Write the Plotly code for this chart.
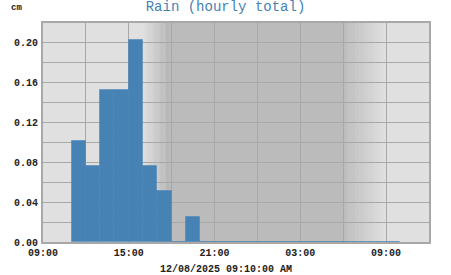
import plotly.graph_objects as go
from datetime import datetime, timedelta

# Data: hourly rain totals (cm), hour start times
hour_starts = [
    "2025-12-07 11:00", "2025-12-07 12:00", "2025-12-07 13:00",
    "2025-12-07 14:00", "2025-12-07 15:00", "2025-12-07 16:00", "2025-12-07 17:00",
    "2025-12-07 18:00", "2025-12-07 19:00", "2025-12-07 20:00", "2025-12-07 21:00",
    "2025-12-07 22:00", "2025-12-07 23:00", "2025-12-08 00:00", "2025-12-08 01:00",
    "2025-12-08 02:00", "2025-12-08 03:00", "2025-12-08 04:00", "2025-12-08 05:00",
    "2025-12-08 06:00", "2025-12-08 07:00", "2025-12-08 08:00", "2025-12-08 09:00",
]
rain_cm = [
    0.1016, 0.0762, 0.1524,
    0.1524, 0.2032, 0.0762, 0.0508,
    0.0, 0.0254, 0.0, 0.0,
    0.0, 0.0, 0.0, 0.0,
    0.0, 0.0, 0.0, 0.0,
    0.0, 0.0, 0.0, 0.0,
]
y_ticks = [0.00, 0.04, 0.08, 0.12, 0.16, 0.20]
y_tick_labels = ["0.00", "0.04", "0.08", "0.12", "0.16", "0.20"]
title_text = "Rain (hourly total)"
unit_text = "cm"
timestamp_text = "12/08/2025 09:10:00 AM"

x_start = "2025-12-07 09:00"
x_end = "2025-12-08 12:00"
dusk_start, dusk_end = "2025-12-07 16:00", "2025-12-07 18:00"
dawn_start, dawn_end = "2025-12-08 06:00", "2025-12-08 09:00"

LIGHT = (224, 224, 224)
DARK = (187, 187, 187)
DARKER = (176, 176, 176)

fig = go.Figure()
fig.add_trace(go.Bar(
    x=hour_starts, y=rain_cm, offset=0, width=3600000,
    marker=dict(color="#4682b4", line=dict(color="rgba(70,130,180,0.5)", width=1)),
    hoverinfo="skip",
))

def mix(a, b, t):
    return "rgb(%d,%d,%d)" % tuple(round(a[i] + (b[i] - a[i]) * t) for i in range(3))

def gradient(t0, t1, c0, c1, steps=24):
    d0 = datetime.fromisoformat(t0)
    d1 = datetime.fromisoformat(t1)
    span = (d1 - d0) / steps
    for i in range(steps):
        a = d0 + span * i
        b = d0 + span * (i + 1)
        fig.add_vrect(x0=a, x1=b + timedelta(seconds=30), fillcolor=mix(c0, c1, (i + 0.5) / steps),
                      line_width=0, layer="below", opacity=1)

gradient(dusk_start, dusk_end, LIGHT, DARKER)
fig.add_vrect(x0=dusk_end, x1=dawn_start, fillcolor=mix(DARK, DARK, 0), line_width=0, layer="below")
gradient(dawn_start, dawn_end, DARK, LIGHT)

font_mono = "Liberation Mono, Courier New, monospace"

fig.update_layout(
    width=451, height=275,
    margin=dict(l=43, r=22, t=23, b=33),
    paper_bgcolor="white",
    plot_bgcolor="rgb(224,224,224)",
    showlegend=False,
    bargap=0,
    font=dict(family=font_mono, size=10, color="#222"),
    title=dict(text=title_text, x=0.5, xanchor="center", y=0.995, yanchor="top",
               font=dict(family=font_mono, size=14, color="#4682b4")),
)
fig.update_xaxes(
    type="date", range=[x_start, x_end],
    tick0=x_start, dtick=6 * 3600000, tickformat="%H:%M",
    showgrid=True, gridcolor="#a8a8a8", gridwidth=1,
    minor=dict(dtick=3 * 3600000, showgrid=True, gridcolor="#a8a8a8", gridwidth=1),
    showline=True, linecolor="#a8a8a8", linewidth=2, mirror=True,
    ticks="", ticklen=0, ticklabelstandoff=0,
    tickfont=dict(family=font_mono, size=10, color="#222", weight="bold"),
    zeroline=False,
)
fig.update_yaxes(
    range=[0, 0.22],
    tickvals=y_ticks, ticktext=y_tick_labels,
    showgrid=True, gridcolor="#a8a8a8", gridwidth=1,
    minor=dict(dtick=0.02, showgrid=True, gridcolor="#a8a8a8", gridwidth=1),
    showline=True, linecolor="#a8a8a8", linewidth=2, mirror=True,
    ticks="", ticklabelstandoff=1,
    tickfont=dict(family=font_mono, size=10, color="#222", weight="bold"),
    zeroline=False,
)
fig.add_annotation(text=unit_text, xref="paper", yref="paper", x=-0.088, y=1.0, yshift=22,
                   xanchor="left", yanchor="top", showarrow=False,
                   font=dict(family=font_mono, size=9, color="#222", weight="bold"))
fig.add_annotation(text=timestamp_text, xref="paper", yref="paper", x=(225.5 - 43) / 386, y=0, yshift=-20,
                   xanchor="center", yanchor="top", showarrow=False,
                   font=dict(family=font_mono, size=10, color="#222", weight="bold"))

fig.write_html("out.html")
